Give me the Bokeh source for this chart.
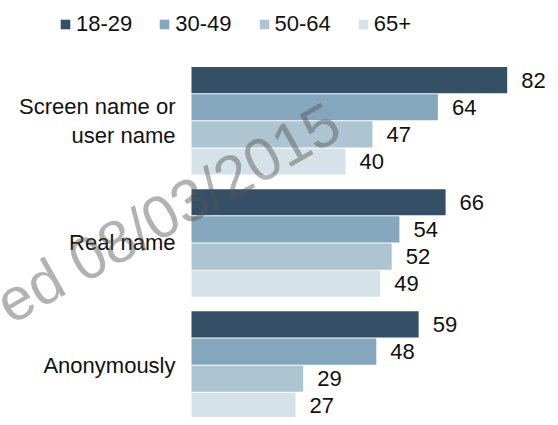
from bokeh.plotting import figure
from bokeh.models import Range1d, ColumnDataSource, Label
from bokeh.core.properties import value
from bokeh.embed import file_html
from bokeh.resources import INLINE

categories = ["Screen name or\nuser name", "Real name", "Anonymously"]
series = ["18-29", "30-49", "50-64", "65+"]
v_18_29 = [82, 66, 59]
v_30_49 = [64, 54, 48]
v_50_64 = [47, 52, 29]
v_65plus = [40, 49, 27]
values = [v_18_29, v_30_49, v_50_64, v_65plus]
colors = ["#355066", "#84a7bd", "#adc5d3", "#d5e2ea"]
watermark = "ed 08/03/2015"

FONT = "Liberation Sans"
W, H = 550, 417
PX_PER_UNIT = 3.85
BAR_LEFT = 191
SLOT = 27.15
TOP = 66
GROUP = 4.5

p = figure(width=W, height=H, output_backend="svg", toolbar_location=None,
           x_range=Range1d(-BAR_LEFT / PX_PER_UNIT, (W - BAR_LEFT) / PX_PER_UNIT),
           y_range=Range1d((H - TOP) / SLOT, -TOP / SLOT),
           x_axis_location=None, y_axis_location=None, min_border=0)
p.grid.visible = False
p.outline_line_color = None

for k, (s, vals, c) in enumerate(zip(series, values, colors)):
    ys = [g * GROUP + k + 0.5 for g in range(len(categories))]
    src = ColumnDataSource(dict(y=ys, v=vals, t=[str(x) for x in vals]))
    p.hbar(y="y", right="v", left=0, height=0.965, source=src, fill_color=c,
           line_color=None, legend_label=s)
    p.text(x="v", y="y", text="t", source=src, x_offset=14, text_align="left",
           text_baseline="middle", text_font=value(FONT), text_font_size="22px",
           text_color="#111111")

cat_src = ColumnDataSource(dict(x=[0] * len(categories),
                                y=[g * GROUP + 2 for g in range(len(categories))],
                                t=categories))
p.text(x="x", y="y", text="t", source=cat_src, x_offset=-16, text_align="right",
       text_baseline="middle", text_font=value(FONT), text_font_size="22px",
       text_color="#111111", text_line_height=1.15)

lg = p.legend[0]
lg.orientation = "horizontal"
lg.location = (59, 380)
lg.glyph_width = 12
lg.glyph_height = 12
lg.label_standoff = 5
lg.spacing = 26
lg.padding = 0
lg.margin = 0
lg.border_line_color = None
lg.background_fill_alpha = 0
lg.label_text_font = FONT
lg.label_text_font_size = "22px"
lg.label_text_color = "#111111"

wm = Label(x=17, y=81, x_units="screen", y_units="screen", text=watermark,
           angle=29.5, angle_units="deg", text_font=FONT, text_font_size="60px",
           text_color="#555555", text_alpha=0.45)
p.add_layout(wm)

open("out.html", "w").write(file_html(p, INLINE))
